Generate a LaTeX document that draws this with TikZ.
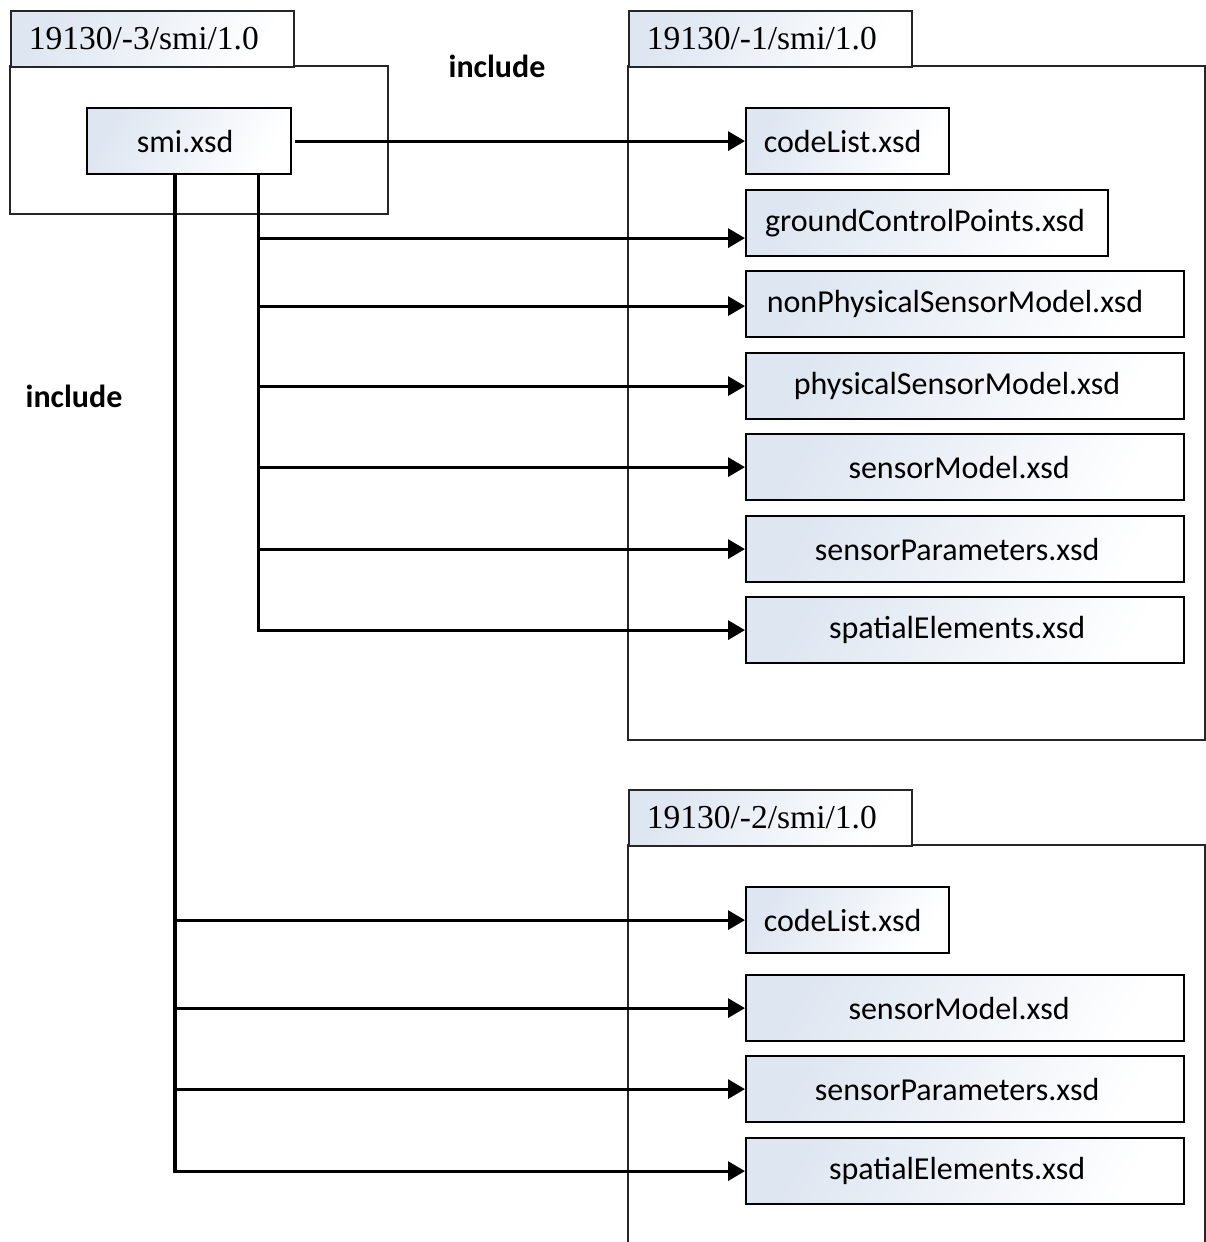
\documentclass[tikz,border=0pt]{standalone}
\usepackage{fontspec}
\setmainfont{Carlito}
\newfontfamily\tabfont{Liberation Serif}
\usetikzlibrary{arrows.meta,calc}
\definecolor{gcol}{RGB}{222,230,241}
\begin{document}
\begin{tikzpicture}[x=1pt,y=-1pt,
 fbox/.style={draw, line width=2.2pt, anchor=north west, inner sep=0pt, minimum height=66,
   top color=gcol, middle color=white, bottom color=white, shading angle=60,
   font=\fontsize{32}{38}\selectfont},
 sh/.style={execute at begin node={\hspace*{-#1pt}}},
 tabbox/.style={draw=black!85, line width=1.8pt, anchor=north west, inner ysep=0pt,
   inner xsep=18pt, text width=247pt, align=left, minimum height=56,
   top color=gcol, middle color=white, bottom color=white, shading angle=60,
   font=\tabfont\fontsize{33.5}{38}\selectfont},
 pkg/.style={draw=black!85, line width=1.8pt},
 conn/.style={line width=3.2pt, -{Triangle[length=17pt,width=19pt]}},
 lbl/.style={font=\bfseries\fontsize{32}{38}\selectfont}]
\useasboundingbox (0,0) rectangle (1206,1242);

% packages
\draw[pkg] (10,66) rectangle (388,214);
\node[tabbox] (t3) at (10,10) {19130/-3/smi/1.0};
\draw[pkg] (628,66) rectangle (1205,740);
\node[tabbox] (t1) at (628,10) {19130/-1/smi/1.0};
\draw[pkg] (628,1260) -- (628,845) -- (1205,845) -- (1205,1260);
\node[tabbox] (t2) at (628,789) {19130/-2/smi/1.0};

% labels
\node[lbl] (inc1) at (497,66) {include};
\node[lbl] (inc2) at (74,396) {include};

% boxes
\node[fbox, sh=8, minimum width=204] (smi) at (86,107) {smi.xsd};
\node[fbox, sh=10, minimum width=203] (cl1) at (745,107) {codeList.xsd};
\node[fbox, sh=4, minimum width=362] (gcp) at (745,189) {groundControlPoints.xsd};
\node[fbox, sh=20, minimum width=438] (npsm) at (745,270) {nonPhysicalSensorModel.xsd};
\node[fbox, sh=16, minimum width=438] (psm) at (745,352) {physicalSensorModel.xsd};
\node[fbox, sh=12, minimum width=438] (sm1) at (745,433) {sensorModel.xsd};
\node[fbox, sh=16, minimum width=438] (sp1) at (745,515) {sensorParameters.xsd};
\node[fbox, sh=16, minimum width=438] (se1) at (745,596) {spatialElements.xsd};

\node[fbox, sh=10, minimum width=203] (cl2) at (745,886) {codeList.xsd};
\node[fbox, sh=12, minimum width=438] (sm2) at (745,974) {sensorModel.xsd};
\node[fbox, sh=16, minimum width=438] (sp2) at (745,1055) {sensorParameters.xsd};
\node[fbox, sh=16, minimum width=438] (se2) at (745,1137) {spatialElements.xsd};

% connectors
\coordinate (va) at ([xshift=-34pt]smi.south east);
\coordinate (vb) at ([xshift=89pt]smi.south west);
\draw[conn] ([xshift=3pt]smi.east) -- (cl1.west);
\draw[conn] (va) |- ([yshift=-15pt]gcp.west);
\draw[conn] (va) |- ([yshift=-2pt]npsm.west);
\draw[conn] (va) |- (psm.west);
\draw[conn] (va) |- (sm1.west);
\draw[conn] (va) |- (sp1.west);
\draw[conn] (va) |- (se1.west);
\draw[conn] (vb) |- (cl2.west);
\draw[conn] (vb) |- (sm2.west);
\draw[conn] (vb) |- (sp2.west);
\draw[conn] (vb) |- (se2.west);
\end{tikzpicture}
\end{document}
